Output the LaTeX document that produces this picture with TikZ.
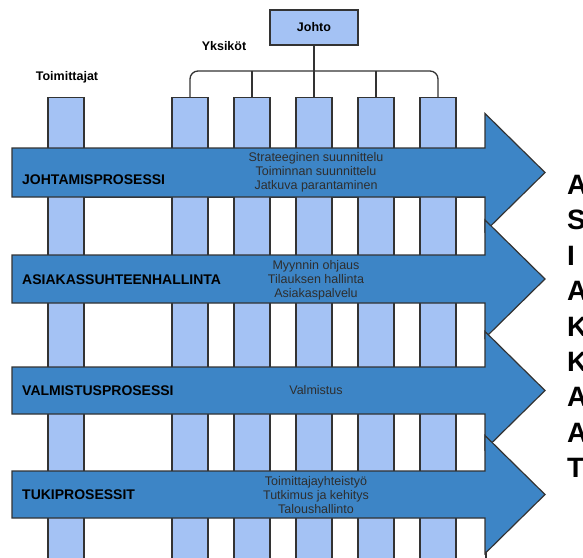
\documentclass[tikz,border=0pt]{standalone}
\usepackage{fontspec}
\setmainfont{Liberation Sans}
\definecolor{arrowblue}{HTML}{3D85C6}
\definecolor{colblue}{HTML}{A4C2F4}
\definecolor{edgegray}{HTML}{333333}
\definecolor{textgray}{HTML}{2E2E2E}

\tikzset{
  outline/.style={draw=edgegray, line width=1.3pt},
  colbox/.style={outline, fill=colblue, minimum width=36pt, minimum height=480pt,
    inner sep=0pt, anchor=north},
  headbox/.style={outline, fill=colblue, minimum width=88pt, minimum height=35pt,
    inner sep=0pt, font=\bfseries\fontsize{12.5}{14}\selectfont},
  toplabel/.style={inner sep=0pt, font=\bfseries\fontsize{12.5}{14}\selectfont},
  procarrow/.style={outline, line width=1.2pt, fill=arrowblue, line join=miter},
  proclabel/.style={anchor=west, inner sep=0pt, font=\bfseries\fontsize{14}{16}\selectfont},
  proctext/.style={inner sep=0pt, align=center, text=textgray,
    font=\fontsize{12.5}{14}\selectfont},
  link/.style={draw=edgegray, line width=1.3pt},
  bigletters/.style={anchor=north west, inner sep=0pt, align=left,
    font=\bfseries\fontsize{28}{35.4}\selectfont}
}

\begin{document}
\begin{tikzpicture}[x=1pt, y=-1pt]
\useasboundingbox (0,0) rectangle (583,557);

% white band behind the columns, between the process arrows
\draw[outline, fill=white] (48,197) rectangle (486,580);

% supplier column and the five unit columns
\node[colbox] (sup) at (66,97) {};
\foreach \x [count=\i] in {190,252,314,376,438}
  \node[colbox] (u\i) at (\x,97) {};

% management box and its bracket to the units
\node[headbox] (johto) at (314,27.5) {Johto};
\coordinate (bar) at (314,71);
\draw[link, rounded corners=8pt] (u1.north) -- (u1.north |- bar) -- (u5.north |- bar) -- (u5.north);
\draw[link] (johto.south) -- (u3.north);
\draw[link] (u2.north) -- (u2.north |- bar);
\draw[link] (u4.north) -- (u4.north |- bar);

\node[toplabel] (yks) at (224,46) {Yksiköt};
\node[toplabel] (toim) at (67,77) {Toimittajat};

% process arrows, top to bottom
\foreach \t/\b in {148/197, 255/303, 367/414, 471/518} {
  \pgfmathsetmacro\c{(\t+\b)/2}
  \draw[procarrow] (12,\t) -- (485,\t) -- (485,\c-59) -- (545,\c)
    -- (485,\c+59) -- (485,\b) -- (12,\b) -- cycle;
}

\node[proclabel] (p1) at (22,179.5) {JOHTAMISPROSESSI};
\node[proclabel] (p2) at (22,280) {ASIAKASSUHTEENHALLINTA};
\node[proclabel] (p3) at (22,390.5) {VALMISTUSPROSESSI};
\node[proclabel] (p4) at (22,495) {TUKIPROSESSIT};

\node[proctext] (t1) at (316,172.5) {Strateeginen suunnittelu\\Toiminnan suunnittelu\\Jatkuva parantaminen};
\node[proctext] (t2) at (316,280) {Myynnin ohjaus\\Tilauksen hallinta\\Asiakaspalvelu};
\node[proctext] (t3) at (316,390.5) {Valmistus};
\node[proctext] (t4) at (316,495) {Toimittajayhteistyö\\Tutkimus ja kehitys\\Taloushallinto};

% letters at the right edge
\node[bigletters] (letters) at (567,175) {A\\S\\I\\A\\K\\K\\A\\A\\T};
\end{tikzpicture}
\end{document}
